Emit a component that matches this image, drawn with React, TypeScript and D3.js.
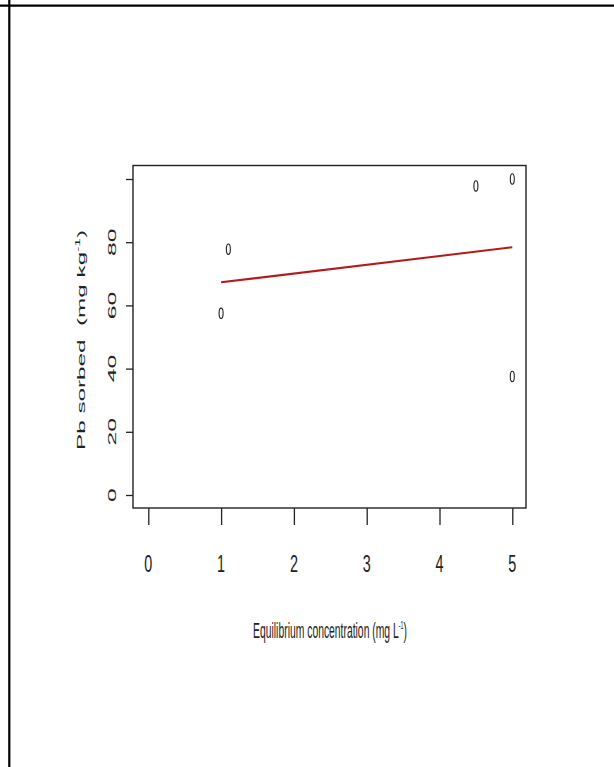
import { useEffect, useRef } from "react";
import * as d3 from "d3";

// ── Data ──────────────────────────────────────────────────────────────────────
const concentration = [1, 1.1, 4.5, 5, 5];
const pbSorbed = [57.5, 77.8, 97.8, 100, 37.5];
const fitConcentration = [1, 5];
const fitSorbed = [67.3, 78.4];
const xTickValues = [0, 1, 2, 3, 4, 5];
const yTickValues = [0, 20, 40, 60, 80, 100];
const yTickLabels = ["0", "20", "40", "60", "80", ""];

export default function App() {
  const svgRef = useRef<SVGSVGElement>(null);

  useEffect(() => {
    if (!svgRef.current) return;

    // ── Dimensions ───────────────────────────────────────────────────────────
    const width = 614;
    const height = 767;
    const box = { left: 133, top: 165.5, right: 526, bottom: 508 };
    const font = "'Liberation Sans', Arial, Helvetica, sans-serif";
    const ink = "#222";

    // ── Scales ───────────────────────────────────────────────────────────────
    const x = d3.scaleLinear().domain([0, 5]).range([148.3, 512.3]);
    const y = d3.scaleLinear().domain([0, 100]).range([495, 179]);

    const svg = d3.select(svgRef.current);
    svg.selectAll("*").remove();

    svg.append("rect").attr("width", width).attr("height", height).attr("fill", "#fff");

    // ── Page frame lines ─────────────────────────────────────────────────────
    svg.append("line")
      .attr("x1", 0).attr("x2", width)
      .attr("y1", 5.7).attr("y2", 5.7)
      .attr("stroke", "#000").attr("stroke-width", 2.2);
    svg.append("line")
      .attr("x1", 9.3).attr("x2", 9.3)
      .attr("y1", 0).attr("y2", height)
      .attr("stroke", "#000").attr("stroke-width", 2.2);

    // ── Plot box ─────────────────────────────────────────────────────────────
    svg.append("rect")
      .attr("x", box.left).attr("y", box.top)
      .attr("width", box.right - box.left)
      .attr("height", box.bottom - box.top)
      .attr("fill", "none")
      .attr("stroke", ink)
      .attr("stroke-width", 1.4);

    // ── X axis ticks ─────────────────────────────────────────────────────────
    const xAxisG = svg.append("g")
      .attr("transform", `translate(0,${box.bottom})`)
      .call(d3.axisBottom(x).tickValues(xTickValues).tickSize(17).tickSizeOuter(0).tickFormat(() => ""));
    xAxisG.select(".domain").remove();
    xAxisG.selectAll(".tick line").attr("stroke", ink).attr("stroke-width", 1.3);

    // x tick labels (condensed, like the squeezed original)
    svg.append("g")
      .selectAll("text")
      .data(xTickValues)
      .enter()
      .append("text")
      .attr("transform", (d) => `translate(${x(d)},571.5) scale(0.6,1)`)
      .attr("text-anchor", "middle")
      .attr("font-family", font)
      .attr("font-size", 24)
      .attr("fill", ink)
      .text((d) => String(d));

    // ── Y axis ticks ─────────────────────────────────────────────────────────
    const yAxisG = svg.append("g")
      .attr("transform", `translate(${box.left},0)`)
      .call(d3.axisLeft(y).tickValues(yTickValues).tickSize(7).tickSizeOuter(0).tickFormat(() => ""));
    yAxisG.select(".domain").remove();
    yAxisG.selectAll(".tick line").attr("stroke", ink).attr("stroke-width", 1.3);

    // y tick labels, rotated and stretched along the axis
    svg.append("g")
      .selectAll("text")
      .data(yTickValues)
      .enter()
      .append("text")
      .attr("transform", (d) => `translate(116,${y(d)}) rotate(-90) scale(2.1,1)`)
      .attr("text-anchor", "middle")
      .attr("font-family", font)
      .attr("font-size", 11.8)
      .attr("fill", ink)
      .text((_, i) => yTickLabels[i]);

    // ── Axis titles (stretched to the measured widths) ───────────────────────
    const xTitle = svg.append("text")
      .attr("text-anchor", "middle")
      .attr("font-family", font)
      .attr("font-size", 21.5)
      .attr("fill", ink);
    xTitle.append("tspan").text("Equilibrium concentration (mg L");
    xTitle.append("tspan").attr("font-size", 11).attr("dy", -9).text("-1");
    xTitle.append("tspan").attr("dy", 9).text(")");
    const xLen = (xTitle.node() as SVGTextElement).getComputedTextLength() || 300;
    xTitle.attr("transform", `translate(330,638) scale(${154 / xLen},1)`);

    const yTitle = svg.append("text")
      .attr("text-anchor", "middle")
      .attr("font-family", font)
      .attr("font-size", 11)
      .attr("fill", ink);
    yTitle.append("tspan").text("Pb sorbed  (mg kg");
    yTitle.append("tspan").attr("font-size", 7).attr("dy", -4.5).text("-1");
    yTitle.append("tspan").attr("dy", 4.5).text(")");
    yTitle.attr("xml:space", "preserve");
    const yLen = (yTitle.node() as SVGTextElement).getComputedTextLength() || 110;
    yTitle.attr("transform", `translate(84.5,340) rotate(-90) scale(${220 / yLen},1)`);

    // ── Fitted line ──────────────────────────────────────────────────────────
    const line = d3.line<number>()
      .x((d) => x(d))
      .y((_, i) => y(fitSorbed[i]));
    svg.append("path")
      .datum(fitConcentration)
      .attr("d", line)
      .attr("fill", "none")
      .attr("stroke", "#b31b1b")
      .attr("stroke-width", 2);

    // ── Points (open circles, squeezed like the original) ────────────────────
    svg.append("g")
      .selectAll("ellipse")
      .data(concentration)
      .enter()
      .append("ellipse")
      .attr("cx", (d) => x(d))
      .attr("cy", (_, i) => y(pbSorbed[i]))
      .attr("rx", 2)
      .attr("ry", 5.2)
      .attr("fill", "none")
      .attr("stroke", ink)
      .attr("stroke-width", 1.1);
  }, []);

  return (
    <svg
      ref={svgRef}
      width={614}
      height={767}
      viewBox="0 0 614 767"
      style={{ position: "absolute", left: 0, top: 0, display: "block" }}
    />
  );
}
